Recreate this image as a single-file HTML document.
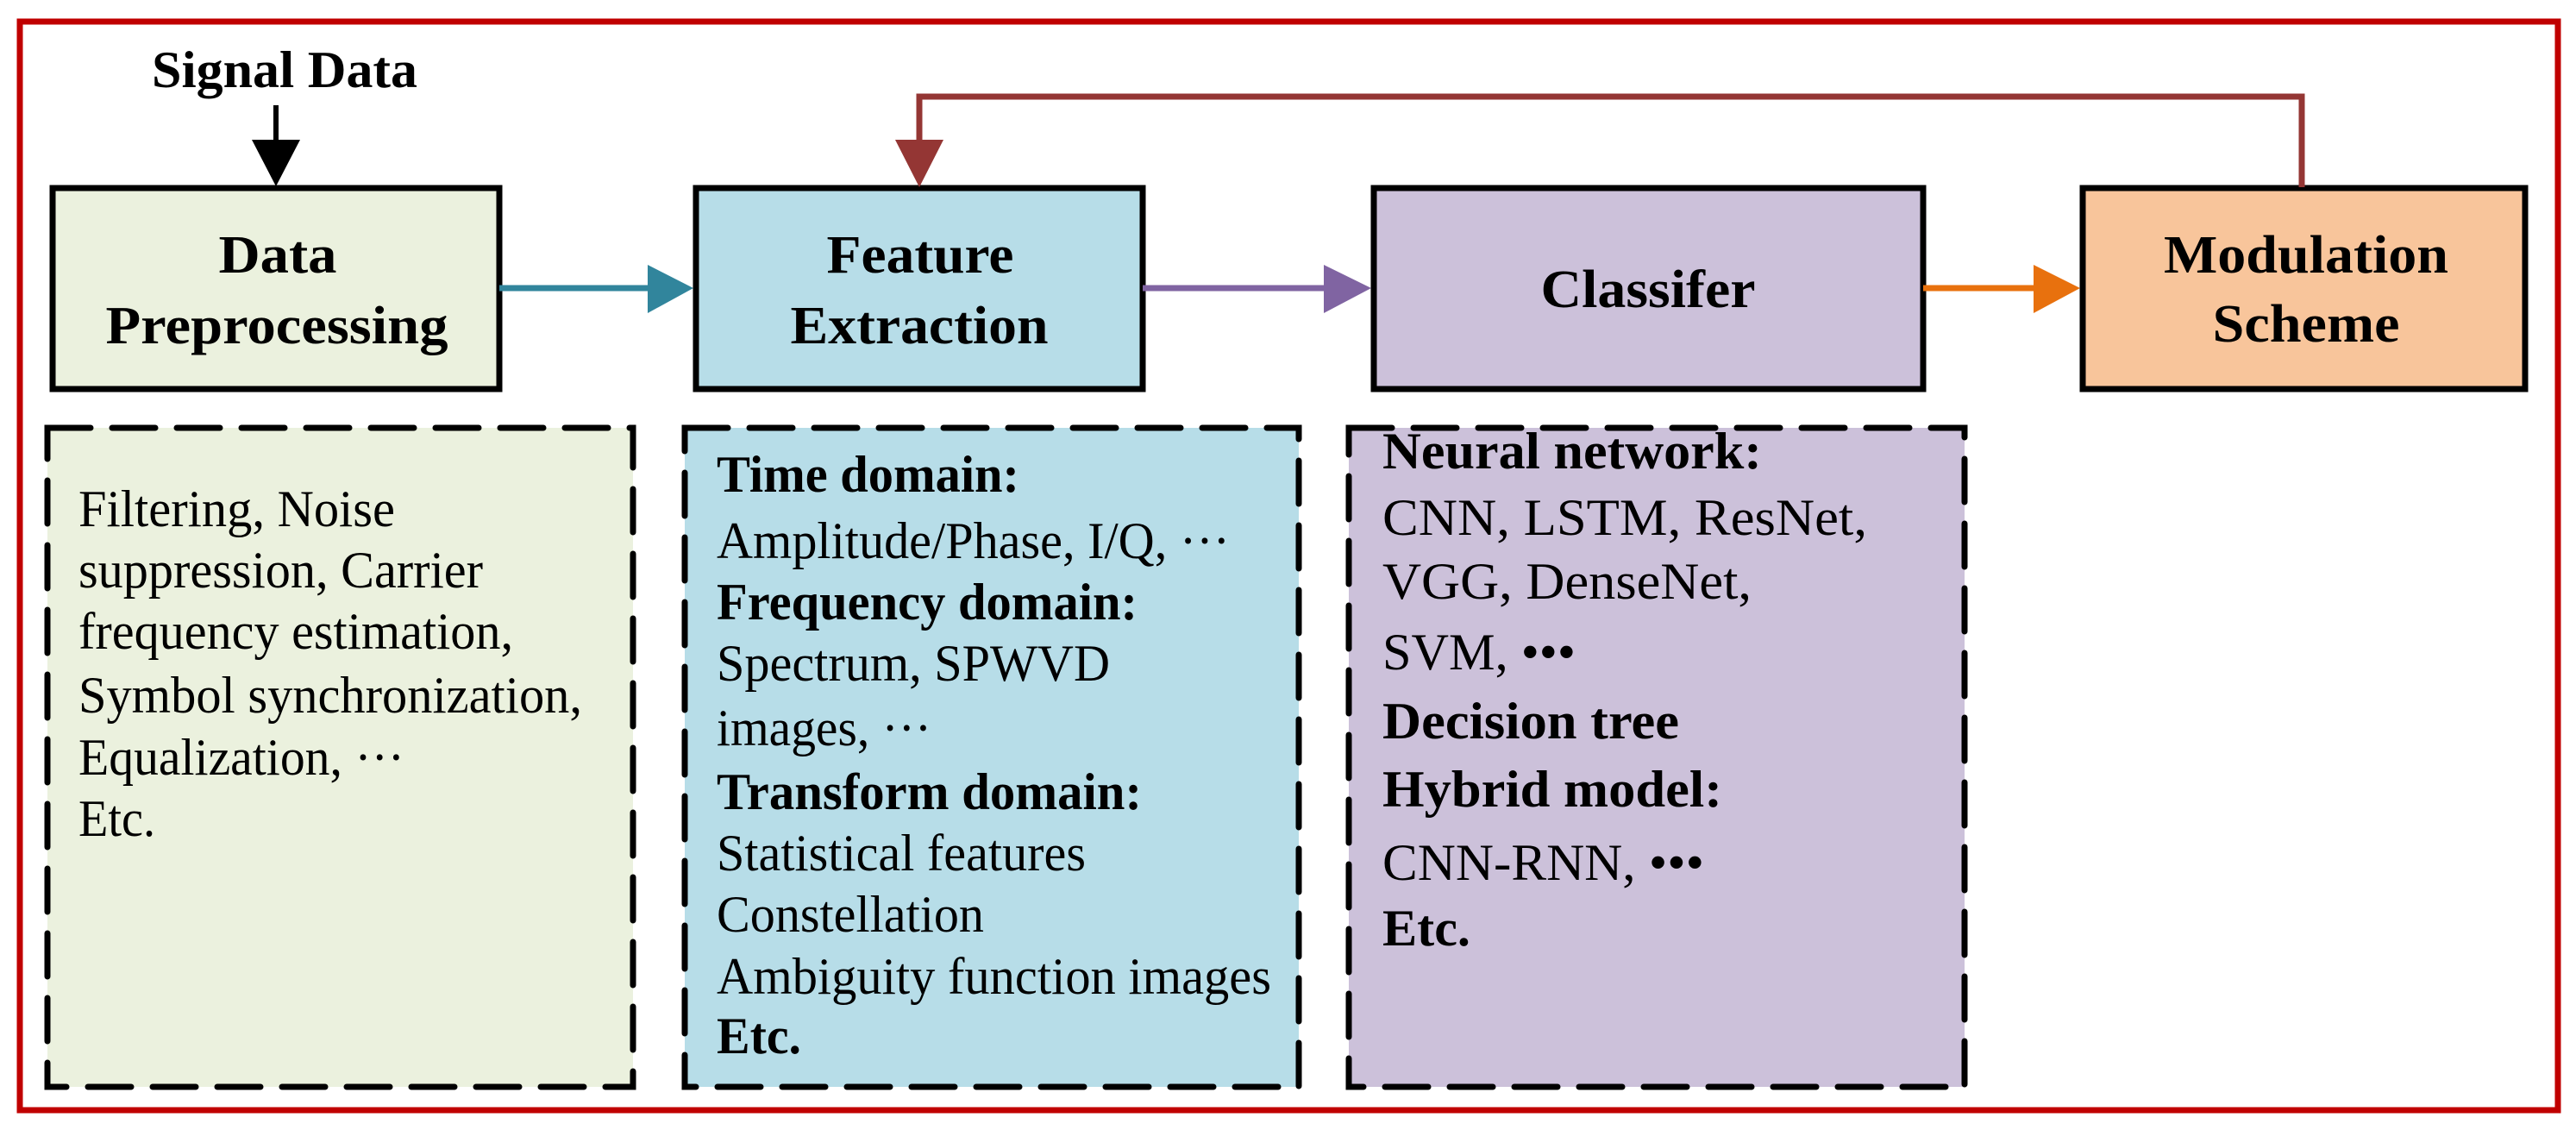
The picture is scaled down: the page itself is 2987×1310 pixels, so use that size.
<!DOCTYPE html>
<html><head><meta charset="utf-8"><style>
html,body{margin:0;padding:0;background:#fff;}
svg{display:block;}
text{font-family:"Liberation Serif",serif;fill:#000;}
.b{font-weight:bold;}
</style></head><body>
<svg width="2987" height="1310" viewBox="0 0 2987 1310" xmlns="http://www.w3.org/2000/svg">
<rect x="0" y="0" width="2987" height="1310" fill="#fff"/>
<rect x="23" y="25" width="2943" height="1262" fill="none" stroke="#c00000" stroke-width="7"/>

<g stroke="#000" stroke-width="7" stroke-dasharray="50 25" stroke-linecap="round">
<rect x="55" y="496" width="679" height="764" fill="#ebf1de"/>
<rect x="794" y="496" width="712" height="764" fill="#b7dde8"/>
<rect x="1564" y="496" width="714" height="764" fill="#ccc1da"/>
</g>

<g stroke="#000" stroke-width="7">
<rect x="61" y="218" width="518" height="233" fill="#ebf1de"/>
<rect x="807" y="218" width="518" height="233" fill="#b7dde8"/>
<rect x="1593" y="218" width="637" height="233" fill="#ccc1da"/>
<rect x="2415" y="218" width="513" height="233" fill="#f8c59b"/>
</g>

<line x1="320" y1="122" x2="320" y2="165" stroke="#000" stroke-width="6"/>
<polygon points="292,162 348,162 320,216" fill="#000"/>

<line x1="579" y1="334" x2="755" y2="334" stroke="#31859c" stroke-width="7"/>
<polygon points="751,307 751,363 804,334" fill="#31859c"/>
<line x1="1325" y1="334" x2="1540" y2="334" stroke="#8064a2" stroke-width="7"/>
<polygon points="1535,307 1535,363 1590,334" fill="#8064a2"/>
<line x1="2230" y1="334" x2="2362" y2="334" stroke="#e8710e" stroke-width="7"/>
<polygon points="2358,307 2358,363 2412,334" fill="#e8710e"/>

<polyline points="2669,217 2669,112 1066,112 1066,165" fill="none" stroke="#943634" stroke-width="7"/>
<polygon points="1038,162 1094,162 1066,217" fill="#943634"/>

<text class="b" x="330" y="101" font-size="60" text-anchor="middle" textLength="308" lengthAdjust="spacingAndGlyphs">Signal Data</text>
<g font-size="62" text-anchor="middle">
<text class="b" x="322" y="316" textLength="137" lengthAdjust="spacingAndGlyphs">Data</text>
<text class="b" x="321" y="398" textLength="397" lengthAdjust="spacingAndGlyphs">Preprocessing</text>
<text class="b" x="1067" y="316" textLength="217" lengthAdjust="spacingAndGlyphs">Feature</text>
<text class="b" x="1066" y="398" textLength="299" lengthAdjust="spacingAndGlyphs">Extraction</text>
<text class="b" x="1911" y="356" textLength="249" lengthAdjust="spacingAndGlyphs">Classifer</text>
<text class="b" x="2674" y="316" textLength="330" lengthAdjust="spacingAndGlyphs">Modulation</text>
<text class="b" x="2674" y="396" textLength="217" lengthAdjust="spacingAndGlyphs">Scheme</text>
</g>

<g font-size="60">
<text x="91" y="610" textLength="367" lengthAdjust="spacingAndGlyphs">Filtering, Noise</text>
<text x="91" y="681" textLength="469" lengthAdjust="spacingAndGlyphs">suppression, Carrier</text>
<text x="91" y="752" textLength="504" lengthAdjust="spacingAndGlyphs">frequency estimation,</text>
<text x="91" y="826" textLength="584" lengthAdjust="spacingAndGlyphs">Symbol synchronization,</text>
<text x="91" y="898" textLength="378" lengthAdjust="spacingAndGlyphs">Equalization, ···</text>
<text x="91" y="969" textLength="89" lengthAdjust="spacingAndGlyphs">Etc.</text>
</g>

<g font-size="60">
<text class="b" x="831" y="570" textLength="351" lengthAdjust="spacingAndGlyphs">Time domain:</text>
<text x="831" y="647" textLength="595" lengthAdjust="spacingAndGlyphs">Amplitude/Phase, I/Q, ···</text>
<text class="b" x="831" y="718" textLength="488" lengthAdjust="spacingAndGlyphs">Frequency domain:</text>
<text x="831" y="789" textLength="456" lengthAdjust="spacingAndGlyphs">Spectrum, SPWVD</text>
<text x="831" y="864" textLength="249" lengthAdjust="spacingAndGlyphs">images, ···</text>
<text class="b" x="831" y="938" textLength="493" lengthAdjust="spacingAndGlyphs">Transform domain:</text>
<text x="831" y="1009" textLength="428" lengthAdjust="spacingAndGlyphs">Statistical features</text>
<text x="831" y="1080" textLength="310" lengthAdjust="spacingAndGlyphs">Constellation</text>
<text x="831" y="1152" textLength="643" lengthAdjust="spacingAndGlyphs">Ambiguity function images</text>
<text class="b" x="831" y="1221" textLength="98" lengthAdjust="spacingAndGlyphs">Etc.</text>
</g>

<g font-size="60">
<text class="b" x="1603" y="543" textLength="440" lengthAdjust="spacingAndGlyphs">Neural network:</text>
<text x="1603" y="620" textLength="562" lengthAdjust="spacingAndGlyphs">CNN, LSTM, ResNet,</text>
<text x="1603" y="694" textLength="428" lengthAdjust="spacingAndGlyphs">VGG, DenseNet,</text>
<text x="1603" y="776" textLength="224" lengthAdjust="spacingAndGlyphs">SVM, •••</text>
<text class="b" x="1603" y="856" textLength="344" lengthAdjust="spacingAndGlyphs">Decision tree</text>
<text class="b" x="1603" y="935" textLength="394" lengthAdjust="spacingAndGlyphs">Hybrid model:</text>
<text x="1603" y="1020" textLength="373" lengthAdjust="spacingAndGlyphs">CNN-RNN, •••</text>
<text class="b" x="1603" y="1096" textLength="102" lengthAdjust="spacingAndGlyphs">Etc.</text>
</g>
</svg>
</body></html>
